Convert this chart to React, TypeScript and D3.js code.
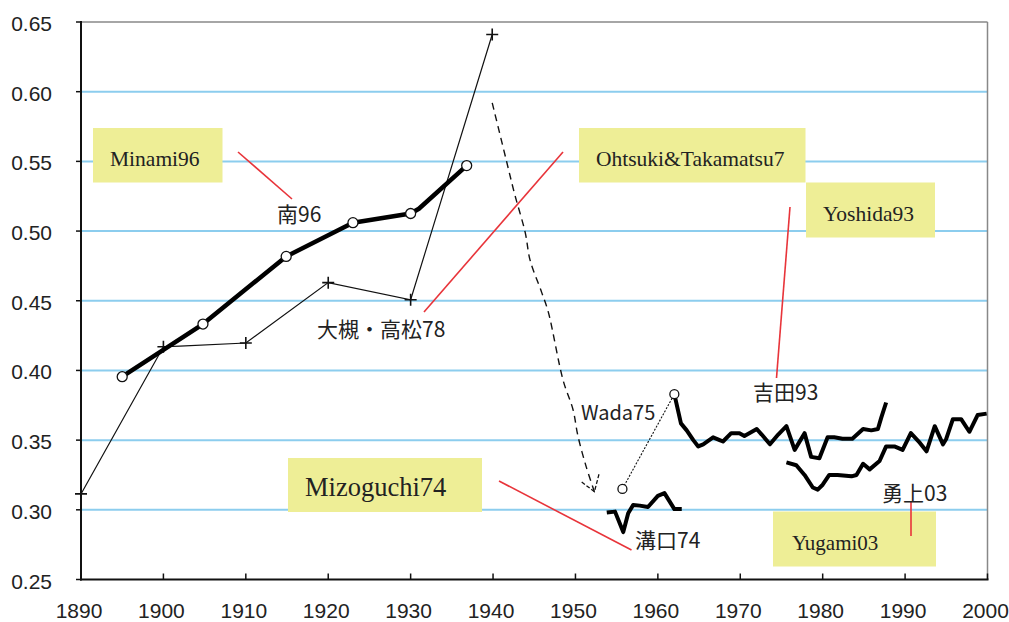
import React from "react";
import * as d3 from "d3";

// series (year, value)
const minamiYears = [1895, 1904.8, 1914.9, 1923, 1930, 1931, 1936.8];
const minamiValues = [0.3955, 0.4333, 0.4818, 0.506, 0.5126, 0.516, 0.547];

const ohtsukiYears = [1890, 1900, 1902, 1910, 1920, 1930, 1939.9];
const ohtsukiValues = [0.3114, 0.417, 0.4175, 0.4197, 0.463, 0.4507, 0.641];

const arrowYears = [1939.9, 1941.6, 1942.6, 1943.9, 1944.5, 1945.9, 1946.7, 1948.5, 1949.7, 1950.3, 1951.3, 1952.3];
const arrowValues = [0.592, 0.551, 0.527, 0.499, 0.479, 0.456, 0.442, 0.393, 0.372, 0.353, 0.331, 0.313];

const wadaYears = [1955.7, 1962];
const wadaValues = [0.315, 0.383];

const mizoguchiYears = [1953.8, 1954.8, 1955.8, 1956.4, 1957, 1957.8, 1958.8, 1960, 1960.8, 1962, 1962.9];
const mizoguchiValues = [0.298, 0.2987, 0.284, 0.2975, 0.3035, 0.303, 0.302, 0.31, 0.312, 0.3005, 0.3005];

const yoshidaYears = [
  1962, 1962.8, 1963.5, 1964.3, 1964.9, 1965.5, 1966.7, 1967.5, 1967.9, 1968.9, 1969.9, 1970.5, 1972,
  1972.6, 1973.6, 1974.6, 1975.6, 1976.6, 1977.8, 1978.6, 1979.6, 1980.6, 1981.4, 1982.4, 1983.6,
  1984.9, 1985.9, 1986.7, 1987.1, 1987.7,
];
const yoshidaValues = [
  0.383, 0.362, 0.357, 0.35, 0.3455, 0.347, 0.352, 0.35, 0.349, 0.355, 0.355, 0.353, 0.358,
  0.354, 0.347, 0.354, 0.36, 0.343, 0.355, 0.338, 0.337, 0.352, 0.352, 0.351, 0.351,
  0.358, 0.357, 0.358, 0.366, 0.377,
];

const yugamiYears = [
  1975.6, 1976.8, 1977.8, 1978.8, 1979.4, 1980, 1980.8, 1981.8, 1983.5, 1984.1, 1984.9, 1985.7, 1986.9,
  1987.7, 1988.7, 1989.7, 1990.7, 1991.8, 1992.6, 1993.6, 1994.6, 1995, 1995.8, 1996.8, 1997.8, 1998.8, 1999.9,
];
const yugamiValues = [
  0.334, 0.332, 0.325, 0.316, 0.3145, 0.318, 0.325, 0.325, 0.324, 0.325, 0.333, 0.329, 0.335,
  0.3455, 0.3455, 0.343, 0.355, 0.348, 0.342, 0.36, 0.347, 0.351, 0.365, 0.365, 0.356, 0.368, 0.369,
];

const yTicks = [0.25, 0.3, 0.35, 0.4, 0.45, 0.5, 0.55, 0.6, 0.65];
const xTicks = [1890, 1900, 1910, 1920, 1930, 1940, 1950, 1960, 1970, 1980, 1990, 2000];

const W = 1009;
const H = 622;
const left = 81;
const right = 987.5;
const top = 22;
const bottom = 579.5;

const x = d3.scaleLinear().domain([1890, 2000]).range([left, right]);
const y = d3.scaleLinear().domain([0.25, 0.65]).range([bottom, top]);

const pairs = (xs: number[], vs: number[]) => xs.map((d, i) => [d, vs[i]] as [number, number]);
const line = d3
  .line<[number, number]>()
  .x((d) => x(d[0]))
  .y((d) => y(d[1]));
const smooth = d3
  .line<[number, number]>()
  .x((d) => x(d[0]))
  .y((d) => y(d[1]))
  .curve(d3.curveCatmullRom);

const sans = "'Liberation Sans', Arial, sans-serif";
const jp = "'Noto Sans CJK JP', sans-serif";
const serif = "'Liberation Serif', 'Times New Roman', serif";
const boxFill = "#eeee96";
const red = "#e8343a";
const grid = "#8ccdee";

export default function App() {
  const minami = pairs(minamiYears, minamiValues);
  const ohtsuki = pairs(ohtsukiYears, ohtsukiValues);
  const wada = pairs(wadaYears, wadaValues);
  const minamiMarks = minami.filter((_, i) => i !== 5);

  const boxes = [
    { x0: 93, y0: 128, x1: 222.5, y1: 182.5, text: "Minami96", tx: 110, ty: 166, fs: 21.5 },
    { x0: 579, y0: 128, x1: 805.5, y1: 182.5, text: "Ohtsuki&Takamatsu7", tx: 596, ty: 165.5, fs: 21.5 },
    { x0: 806, y0: 182.5, x1: 935, y1: 237.5, text: "Yoshida93", tx: 823, ty: 221, fs: 21.5 },
    { x0: 288, y0: 458, x1: 482, y1: 512, text: "Mizoguchi74", tx: 305, ty: 496, fs: 26.5 },
    { x0: 773, y0: 511.5, x1: 936, y1: 566.5, text: "Yugami03", tx: 792, ty: 550, fs: 21 },
  ];

  const leaders = [
    [238, 152, 292, 199],
    [563, 152, 424, 312],
    [790, 207, 776.5, 378],
    [499, 481, 631.5, 550],
    [911, 502, 911, 536],
  ];

  const jpLabels = [
    { text: "南96", x: 277, y: 221.5, fs: 21 },
    { text: "大槻・高松78", x: 317, y: 336.5, fs: 21 },
    { text: "吉田93", x: 753, y: 399.5, fs: 21 },
    { text: "Wada75", x: 581, y: 419.5, fs: 20 },
    { text: "溝口74", x: 635, y: 547.5, fs: 21 },
    { text: "勇上03", x: 882, y: 500.5, fs: 21 },
  ];

  return (
    <svg width={W} height={H} style={{ position: "absolute", left: 0, top: 0, background: "#fff" }}>
      <defs>
        <marker
          id="arrow"
          markerUnits="userSpaceOnUse"
          markerWidth={40}
          markerHeight={40}
          refX={0}
          refY={0}
          viewBox="-20 -20 40 40"
          orient="auto"
        >
          <path d="M -15 -10 L 0 0 L -15 10" fill="none" stroke="#111" strokeWidth={1.3} strokeDasharray="4 2" />
        </marker>
      </defs>

      {/* gridlines */}
      {yTicks
        .filter((t) => t > 0.26 && t < 0.64)
        .map((t) => (
          <line key={t} x1={left} x2={right} y1={y(t)} y2={y(t)} stroke={grid} strokeWidth={2} />
        ))}

      {/* frame */}
      <line x1={left} x2={right} y1={top} y2={top} stroke="#888" strokeWidth={1.5} />
      <line x1={right} x2={right} y1={top} y2={bottom} stroke="#888" strokeWidth={1.5} />
      <line x1={left} x2={left} y1={top - 1} y2={bottom + 1} stroke="#111" strokeWidth={2} />
      <line x1={left - 1} x2={right + 1} y1={bottom} y2={bottom} stroke="#111" strokeWidth={2} />

      {/* ticks & labels */}
      {yTicks.map((t) => (
        <g key={t}>
          <line x1={left - 5} x2={left} y1={y(t)} y2={y(t)} stroke="#111" strokeWidth={1.5} />
          <text x={52} y={y(t) + 9} textAnchor="end" fontFamily={sans} fontSize={21} fill="#222">
            {t.toFixed(2)}
          </text>
        </g>
      ))}
      {xTicks.map((t) => (
        <g key={t}>
          <line x1={x(t)} x2={x(t)} y1={bottom - 6} y2={bottom} stroke="#111" strokeWidth={1.5} />
          <text x={x(t) - 2} y={618} textAnchor="middle" fontFamily={sans} fontSize={21} fill="#222">
            {t}
          </text>
        </g>
      ))}

      {/* annotation boxes */}
      {boxes.map((b) => (
        <g key={b.text}>
          <rect x={b.x0} y={b.y0} width={b.x1 - b.x0} height={b.y1 - b.y0} fill={boxFill} />
          <text x={b.tx} y={b.ty} fontFamily={serif} fontSize={b.fs} fill="#222">
            {b.text}
          </text>
        </g>
      ))}
      {leaders.map((l, i) => (
        <line key={i} x1={l[0]} y1={l[1]} x2={l[2]} y2={l[3]} stroke={red} strokeWidth={1.6} />
      ))}

      {/* series */}
      <path d={line(ohtsuki) ?? ""} fill="none" stroke="#111" strokeWidth={1.2} />
      {ohtsuki
        .filter((_, i) => i !== 2)
        .map((d, i) => (
          <path
            key={i}
            d={`M${x(d[0]) - 6},${y(d[1])}h12M${x(d[0])},${y(d[1]) - 6}v12`}
            stroke="#111"
            strokeWidth={1.6}
          />
        ))}

      <path d={line(minami) ?? ""} fill="none" stroke="#000" strokeWidth={4.5} strokeLinejoin="round" />
      {minamiMarks.map((d, i) => (
        <circle key={i} cx={x(d[0])} cy={y(d[1])} r={5} fill="#fff" stroke="#111" strokeWidth={1.3} />
      ))}

      <path
        d={smooth(pairs(arrowYears, arrowValues)) ?? ""}
        fill="none"
        stroke="#111"
        strokeWidth={1.4}
        strokeDasharray="7 5"
        markerEnd="url(#arrow)"
      />

      <path d={line(wada) ?? ""} fill="none" stroke="#111" strokeWidth={1.1} strokeDasharray="2 1.5" />
      {[pairs(mizoguchiYears, mizoguchiValues), pairs(yoshidaYears, yoshidaValues), pairs(yugamiYears, yugamiValues)].map(
        (s, i) => (
          <path key={i} d={line(s) ?? ""} fill="none" stroke="#000" strokeWidth={4} strokeLinejoin="round" />
        )
      )}
      {wada.map((d, i) => (
        <circle key={i} cx={x(d[0])} cy={y(d[1])} r={4.5} fill="#fff" stroke="#111" strokeWidth={1.3} />
      ))}

      {jpLabels.map((l) => (
        <text key={l.text} x={l.x} y={l.y} fontFamily={jp} fontSize={l.fs} fill="#222">
          {l.text}
        </text>
      ))}
    </svg>
  );
}
